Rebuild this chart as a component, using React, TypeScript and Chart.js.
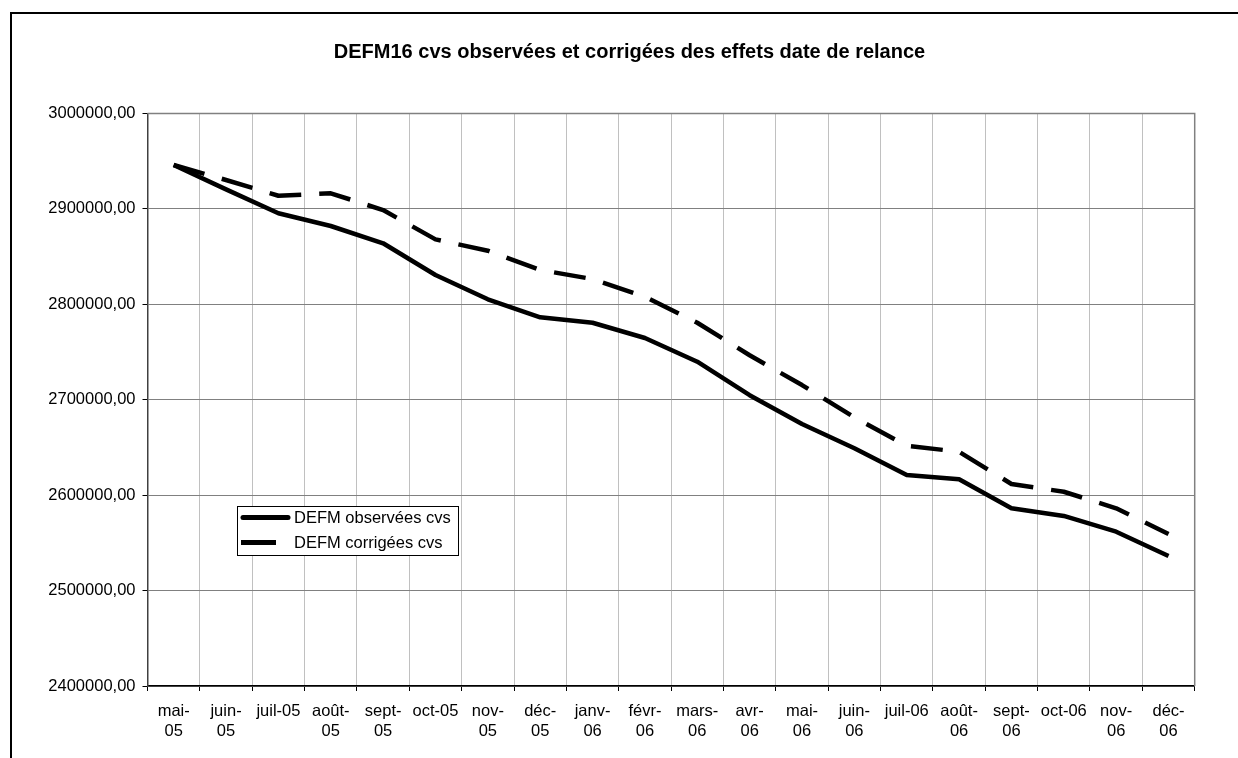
import React, { useEffect, useRef } from "react";
import { Chart, registerables } from "chart.js";

Chart.register(...registerables);

const monthLabels: (string | string[])[] = [
  ["mai-", "05"], ["juin-", "05"], "juil-05", ["août-", "05"], ["sept-", "05"],
  "oct-05", ["nov-", "05"], ["déc-", "05"], ["janv-", "06"], ["févr-", "06"],
  ["mars-", "06"], ["avr-", "06"], ["mai-", "06"], ["juin-", "06"], "juil-06",
  ["août-", "06"], ["sept-", "06"], "oct-06", ["nov-", "06"], ["déc-", "06"],
];

const observees = [
  2946000, 2920500, 2895400, 2882100, 2864000, 2830700, 2805300, 2786400, 2780700, 2764700,
  2739900, 2704800, 2674600, 2649100, 2621100, 2616600, 2586200, 2578200, 2561700, 2536200,
];

const corrigees = [
  2946000, 2930300, 2913800, 2916400, 2898800, 2868100, 2856200, 2836000, 2826500, 2808000,
  2780700, 2746600, 2715400, 2681600, 2651800, 2645500, 2611700, 2603600, 2586200, 2559300,
];

const seriesNames = ["DEFM observées cvs", "DEFM corrigées cvs"];
const chartTitle = "DEFM16 cvs observées et corrigées des effets date de relance";
const yMin = 2400000;
const yMax = 3000000;
const yStep = 100000;

const FONT = "'Liberation Sans', Arial, sans-serif";

const framePlugin = {
  id: "framePlugin",
  beforeDraw(chart: any) {
    const c = chart.ctx;
    c.save();
    c.fillStyle = "#ffffff";
    c.fillRect(0, 0, chart.width, chart.height);
    c.fillStyle = "#000000";
    c.fillRect(10, 12, 2, chart.height - 12);
    c.fillRect(10, 12, chart.width - 10, 2);
    // title
    c.font = `bold 20px ${FONT}`;
    c.textAlign = "center";
    c.textBaseline = "middle";
    c.fillText(chartTitle, 629.5, 52);
    c.restore();
  },
  beforeDatasetsDraw(chart: any) {
    const c = chart.ctx;
    const { left, top, right, bottom } = chart.chartArea;
    c.save();
    c.strokeStyle = "#808080";
    c.lineWidth = 1.5;
    c.beginPath();
    c.moveTo(left, top);
    c.lineTo(right, top);
    c.lineTo(right, bottom);
    c.stroke();
    c.restore();
  },
  afterDraw(chart: any) {
    const c = chart.ctx;
    const ds = chart.data.datasets;
    const bx = 237, by = 506, bw = 221, bh = 49;
    c.save();
    c.fillStyle = "#ffffff";
    c.fillRect(bx, by, bw, bh);
    c.strokeStyle = "#000000";
    c.lineWidth = 1;
    c.strokeRect(bx + 0.5, by + 0.5, bw, bh);
    const rowsY = [517.5, 542.5];
    ds.forEach((d: any, i: number) => {
      const y = rowsY[i];
      const dashed = d.borderDash && d.borderDash.length;
      c.beginPath();
      c.setLineDash([]);
      c.lineWidth = 5;
      c.lineCap = dashed ? "butt" : "round";
      c.strokeStyle = d.borderColor;
      if (dashed) {
        c.moveTo(241, y);
        c.lineTo(276, y);
      } else {
        c.moveTo(243, y);
        c.lineTo(288, y);
      }
      c.stroke();
      c.fillStyle = "#000000";
      c.font = `16.5px ${FONT}`;
      c.textBaseline = "middle";
      c.textAlign = "left";
      c.fillText(d.label, 294, y + 1);
    });
    c.restore();
  },
};

export default function App() {
  const ref = useRef<HTMLCanvasElement | null>(null);

  useEffect(() => {
    if (!ref.current) return;
    const chart = new Chart(ref.current, {
      type: "line",
      data: {
        labels: monthLabels as any,
        datasets: [
          {
            label: seriesNames[0],
            data: observees,
            borderColor: "#000000",
            borderWidth: 4.5,
            pointRadius: 0,
            tension: 0,
            borderJoinStyle: "round",
            borderCapStyle: "butt",
          },
          {
            label: seriesNames[1],
            data: corrigees,
            borderColor: "#000000",
            borderWidth: 4.5,
            borderDash: [32, 18],
            pointRadius: 0,
            tension: 0,
            borderJoinStyle: "round",
            borderCapStyle: "butt",
          },
        ],
      },
      options: {
        animation: false,
        responsive: false,
        devicePixelRatio: 1,
        layout: { padding: { left: 0, right: 43.3, top: 113.5, bottom: 0 } },
        plugins: {
          legend: { display: false },
          tooltip: { enabled: false },
          title: { display: false },
        },
        scales: {
          x: {
            type: "category",
            offset: true,
            grid: {
              offset: true,
              color: "#c0c0c0",
              lineWidth: 1,
              tickColor: "#000000",
              tickLength: 5,
              drawTicks: true,
            },
            border: { color: "#000000", width: 1.5 },
            ticks: {
              color: "#000000",
              font: { family: FONT, size: 16.5 },
              autoSkip: false,
              maxRotation: 0,
              minRotation: 0,
              padding: 11,
            },
            afterFit: (scale: any) => {
              scale.height = 72;
            },
          },
          y: {
            min: yMin,
            max: yMax,
            grid: {
              color: "#808080",
              lineWidth: 1,
              tickColor: "#000000",
              tickLength: 5,
            },
            border: { color: "#404040", width: 1.5 },
            ticks: {
              stepSize: yStep,
              color: "#000000",
              font: { family: FONT, size: 16.5 },
              padding: 7,
              callback: (v: any) => Number(v).toFixed(2).replace(".", ","),
            },
            afterFit: (scale: any) => {
              scale.width = 147.5;
            },
          },
        },
      },
      plugins: [framePlugin],
    });
    return () => chart.destroy();
  }, []);

  return (
    <div style={{ position: "fixed", left: 0, top: 0, width: 1238, height: 758, background: "#fff" }}>
      <canvas ref={ref} width={1238} height={758} style={{ display: "block", width: 1238, height: 758 }} />
    </div>
  );
}
